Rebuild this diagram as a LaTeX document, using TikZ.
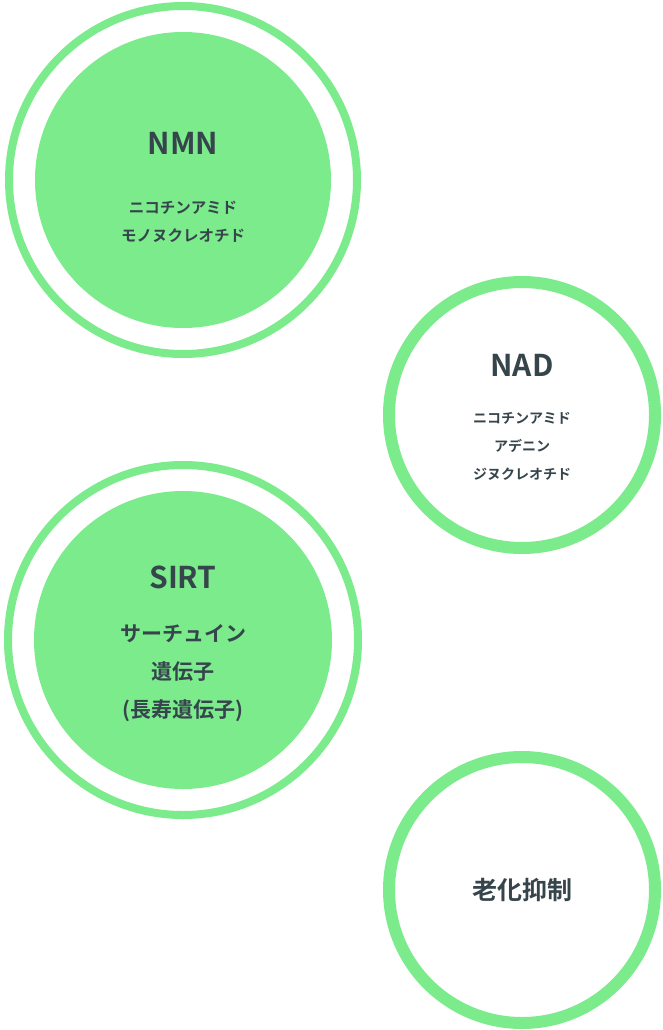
\documentclass[tikz,border=0pt]{standalone}
\usepackage{fontspec}
\setmainfont{Noto Sans CJK JP Bold}
\definecolor{gr}{HTML}{7BEB8C}
\definecolor{tx}{HTML}{36454C}
\begin{document}
\begin{tikzpicture}[x=1pt,y=-1pt,
  ring/.style={circle,draw=gr,line width=#1},
  lbl/.style={align=center,text=tx,font=\bfseries}]
\useasboundingbox[fill=white] (0,0) rectangle (663,1030);
% NMN
\node[ring=8pt,minimum size=348pt] (nmnO) at (183,180) {};
\node[circle,fill=gr,minimum size=296pt] (nmn) at (183,180) {};
\node[lbl,font=\fontsize{30}{34}\selectfont] (nmnT) at (183,143) {NMN};
\node[lbl,font=\fontsize{15.5}{28}\selectfont] (nmnS) at (183,222) {ニコチンアミド\\モノヌクレオチド};
% NAD
\node[ring=12pt,fill=white,minimum size=266pt] (nad) at (522,415) {};
\node[lbl,font=\fontsize{30}{34}\selectfont] (nadT) at (522,365) {NAD};
\node[lbl,font=\fontsize{14}{28}\selectfont] (nadS) at (522,446) {ニコチンアミド\\アデニン\\ジヌクレオチド};
% SIRT
\node[ring=8pt,minimum size=350pt] (sirtO) at (183,640) {};
\node[circle,fill=gr,minimum size=298pt] (sirt) at (183,640) {};
\node[lbl,font=\fontsize{30}{34}\selectfont] (sirtT) at (183,577) {SIRT};
\node[lbl,font=\fontsize{21}{38}\selectfont] (sirtS) at (183,673) {サーチュイン\\遺伝子\\(長寿遺伝子)};
% aging
\node[ring=12pt,fill=white,minimum size=266pt] (age) at (522,890) {};
\node[lbl,font=\fontsize{25}{30}\selectfont] (ageT) at (522,890) {老化抑制};
\end{tikzpicture}
\end{document}
